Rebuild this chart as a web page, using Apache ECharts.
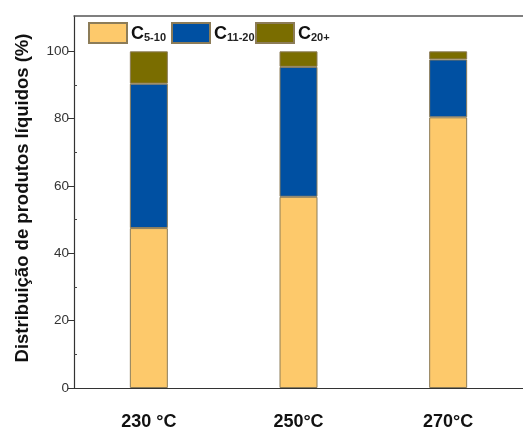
<!DOCTYPE html>
<html><head><meta charset="utf-8">
<script src="https://cdn.jsdelivr.net/npm/echarts@6/dist/echarts.min.js"></script>
<style>html,body{margin:0;padding:0;background:#fff}#c{width:523px;height:431px}</style>
</head><body><div id="c"></div>
<script>
const categories = ['230 °C', '250°C', '270°C'];
const c5_10 = [47.5, 56.8, 80.4];
const c11_20 = [42.9, 38.6, 17.2];
const c20p = [9.6, 4.6, 2.4];
const seriesNames = ['C5-10', 'C11-20', 'C20+'];
const yTicks = [0, 20, 40, 60, 80, 100];

const colors = ['#FDC96B', '#0050A2', '#7A6D00'];
const border = {borderColor: '#8c7c58', borderWidth: 1};
const font = 'Liberation Sans, Arial, sans-serif';
const rich = {
  c: {fontSize: 18, fontWeight: 'bold', color: '#111', fontFamily: font, verticalAlign: 'bottom', lineHeight: 19},
  s: {fontSize: 11, fontWeight: 'bold', color: '#222', fontFamily: font, verticalAlign: 'bottom', lineHeight: 14}
};
function legendAt(name, left) {
  return {
    data: [name], left: left, top: 22, itemWidth: 38, itemHeight: 20, itemGap: 0,
    selectedMode: false, padding: 0, icon: 'rect',
    formatter: n => '{c|C}{s|' + n.slice(1) + '}',
    textStyle: {rich: rich, padding: [2, 0, 0, -1]}
  };
}
const chart = echarts.init(document.getElementById('c'), null, {renderer: 'canvas'});
const vals = [c5_10, c11_20, c20p];
chart.setOption({
  animation: false,
  color: colors,
  legend: [legendAt(seriesNames[0], 88), legendAt(seriesNames[1], 171), legendAt(seriesNames[2], 255)],
  grid: {left: 74, width: 457, top: 16, height: 375},
  xAxis: [{
    type: 'category', data: categories, position: 'bottom',
    axisLine: {lineStyle: {color: '#333', width: 1.2}},
    axisTick: {alignWithLabel: true, length: 6, lineStyle: {color: '#333'}},
    axisLabel: {margin: 25, fontSize: 18, fontWeight: 'bold', color: '#111', fontFamily: font}
  }, {
    type: 'category', data: categories, position: 'bottom',
    axisLine: {show: false},
    axisTick: {length: 2, lineStyle: {color: '#555'}},
    axisLabel: {show: false}
  }, {
    type: 'category', data: categories, position: 'top',
    axisLine: {lineStyle: {color: '#555', width: 1.5}},
    axisTick: {show: false}, axisLabel: {show: false}
  }],
  yAxis: [{
    type: 'value', min: 0, max: 110.5, interval: 20,
    name: 'Distribuição de produtos líquidos (%)', nameLocation: 'middle', nameGap: 42,
    nameTextStyle: {fontSize: 18.5, fontWeight: 'bold', color: '#111', fontFamily: font, padding: [0, 0, 0, 8]},
    axisLine: {show: true, lineStyle: {color: '#333', width: 1.2}},
    axisTick: {show: true, length: 6, lineStyle: {color: '#333'}, customValues: yTicks},
    axisLabel: {fontSize: 13.5, color: '#333', fontFamily: font, margin: 5, customValues: yTicks},
    splitLine: {show: false}
  }, {
    type: 'value', min: 0, max: 110.5, interval: 10, position: 'left',
    axisLine: {show: false},
    axisTick: {show: true, inside: true, length: 3, lineStyle: {color: '#444'}, customValues: [10, 30, 50, 70, 90]},
    axisLabel: {show: false}, splitLine: {show: false}
  }],
  series: seriesNames.map((n, i) => ({
    name: n, type: 'bar', stack: 'all', data: vals[i], barWidth: 38,
    itemStyle: Object.assign({color: colors[i]}, border)
  }))
});
</script></body></html>
